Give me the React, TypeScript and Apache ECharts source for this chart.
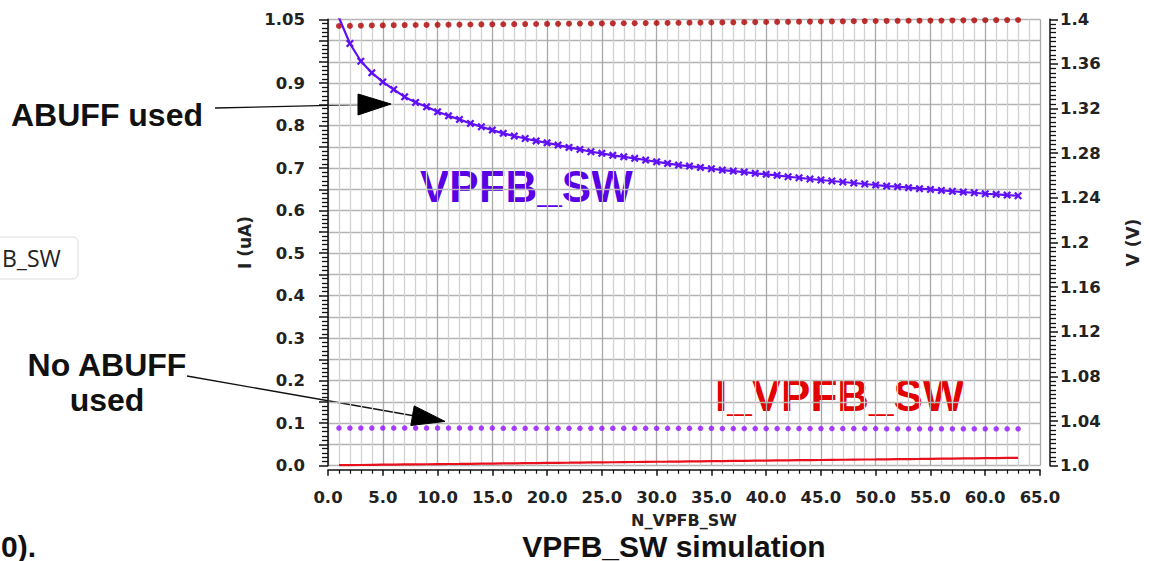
import React, { useEffect, useRef } from "react";
import * as echarts from "echarts";

// Sweep points N_VPFB_SW
const nValues = [
  1, 2, 3, 4, 5, 6, 7, 8, 9, 10, 11, 12, 13, 14, 15, 16, 17, 18, 19, 20, 21,
  22, 23, 24, 25, 26, 27, 28, 29, 30, 31, 32, 33, 34, 35, 36, 37, 38, 39, 40,
  41, 42, 43, 44, 45, 46, 47, 48, 49, 50, 51, 52, 53, 54, 55, 56, 57, 58, 59,
  60, 61, 62, 63,
];

// VPFB_SW (V) with ABUFF
const vpfbAbuff = [
  1.4015, 1.3783, 1.3624, 1.352, 1.3439, 1.3371, 1.3305, 1.3255, 1.3216,
  1.3171, 1.3135, 1.3103, 1.3067, 1.3037, 1.3007, 1.2978, 1.2954, 1.2932,
  1.291, 1.2893, 1.2873, 1.2852, 1.2834, 1.2813, 1.2799, 1.2781, 1.2768,
  1.2754, 1.2739, 1.2723, 1.2709, 1.2694, 1.2685, 1.2673, 1.2661, 1.2649,
  1.264, 1.2631, 1.262, 1.2611, 1.2602, 1.2589, 1.258, 1.2569, 1.256, 1.2551,
  1.2542, 1.2533, 1.2524, 1.2515, 1.2506, 1.25, 1.2491, 1.2482, 1.2476,
  1.2467, 1.2459, 1.2452, 1.2446, 1.2437, 1.2432, 1.2425, 1.2419,
];

// VPFB_SW (V) without ABUFF
const vpfbNoAbuff = [
  1.0337, 1.0337, 1.0337, 1.0337, 1.0337, 1.0337, 1.0337, 1.0337, 1.0337,
  1.0337, 1.0337, 1.0337, 1.0337, 1.0337, 1.0337, 1.0335, 1.0335, 1.0335,
  1.0335, 1.0335, 1.0335, 1.0335, 1.0335, 1.0335, 1.0335, 1.0335, 1.0335,
  1.0335, 1.0335, 1.0335, 1.0335, 1.0335, 1.0335, 1.0335, 1.0335, 1.0333,
  1.0333, 1.0333, 1.0333, 1.0333, 1.0333, 1.0333, 1.0333, 1.0333, 1.0333,
  1.0333, 1.0333, 1.0333, 1.0333, 1.0333, 1.0331, 1.0331, 1.0331, 1.0331,
  1.0331, 1.0331, 1.0331, 1.0331, 1.0331, 1.0331, 1.0331, 1.0331, 1.0331,
];

// I_VPFB_SW (uA) with ABUFF
const iAbuff = [
  1.0343, 1.0345, 1.035, 1.0355, 1.0357, 1.0362, 1.0364, 1.0366, 1.0368,
  1.0371, 1.0373, 1.0375, 1.0378, 1.038, 1.0382, 1.0384, 1.0386, 1.0388,
  1.039, 1.0392, 1.0394, 1.0397, 1.0399, 1.0401, 1.0403, 1.0405, 1.0407,
  1.0409, 1.0411, 1.0413, 1.0415, 1.0418, 1.042, 1.0422, 1.0425, 1.0427,
  1.0429, 1.0432, 1.0434, 1.0437, 1.0439, 1.0441, 1.0444, 1.0446, 1.0448,
  1.0451, 1.0453, 1.0455, 1.0458, 1.046, 1.0462, 1.0464, 1.0466, 1.0467,
  1.0469, 1.0471, 1.0473, 1.0475, 1.0477, 1.0479, 1.048, 1.0482, 1.0484,
];

// I_VPFB_SW (uA) without ABUFF
const iNoAbuff = [
  0.0012, 0.0015, 0.0017, 0.002, 0.0023, 0.0026, 0.0029, 0.0031, 0.0034,
  0.0037, 0.004, 0.0042, 0.0045, 0.0048, 0.0051, 0.0054, 0.0056, 0.0059,
  0.0062, 0.0065, 0.0068, 0.007, 0.0073, 0.0076, 0.0079, 0.0081, 0.0084,
  0.0087, 0.009, 0.0093, 0.0095, 0.0098, 0.0101, 0.0104, 0.0107, 0.0109,
  0.0112, 0.0115, 0.0118, 0.012, 0.0123, 0.0126, 0.0129, 0.0132, 0.0134,
  0.0137, 0.014, 0.0143, 0.0146, 0.0148, 0.0151, 0.0154, 0.0157, 0.0159,
  0.0162, 0.0165, 0.0168, 0.0171, 0.0173, 0.0176, 0.0179, 0.0182, 0.0185,
];

const pairs = (ys: number[]) => nValues.map((n, i) => [n, ys[i]]);

const AXIS_FONT = "DejaVu Sans";
const NOTE_FONT = "Liberation Sans";

// thick "x" marker for the sampled curve
const xMarker =
  "path://M0,2L2,0L5,3L8,0L10,2L7,5L10,8L8,10L5,7L2,10L0,8L3,5Z";

const textStyle = (
  text: string,
  x: number,
  y: number,
  font: string,
  fill: string,
  align: string
) => ({
  text,
  x,
  y,
  font,
  fill,
  align,
  verticalAlign: "middle",
  textAlign: align,
  textVerticalAlign: "middle",
});

export default function App() {
  const ref = useRef<HTMLDivElement>(null);

  useEffect(() => {
    if (!ref.current) return;
    const chart = echarts.init(ref.current, undefined, { renderer: "svg" });

    chart.setOption({
      animation: false,
      backgroundColor: "#ffffff",
      grid: { left: 328, right: 91, top: 19.3, bottom: 95.3, containLabel: false },
      xAxis: {
        type: "value",
        min: 0,
        max: 65,
        interval: 5,
        offset: 4,
        name: "N_VPFB_SW",
        nameLocation: "middle",
        nameGap: 43,
        nameTextStyle: { fontFamily: AXIS_FONT, fontWeight: "bold", fontSize: 16, color: "#222" },
        axisLine: { onZero: false, lineStyle: { color: "#111", width: 1.5 } },
        axisTick: { show: true, length: 6, lineStyle: { color: "#111", width: 1.5 } },
        minorTick: { show: true, splitNumber: 5, length: 4, lineStyle: { color: "#111", width: 1.2 } },
        axisLabel: {
          margin: 19,
          fontFamily: AXIS_FONT,
          fontWeight: "bold",
          fontSize: 16.5,
          color: "#222",
          formatter: (v: number) => v.toFixed(1),
        },
        splitLine: { show: true, lineStyle: { color: "#a8a8a8", width: 1.3 } },
        minorSplitLine: { show: true, lineStyle: { color: "#d2d2d2", width: 1.3 } },
      },
      yAxis: [
        {
          type: "value",
          min: 0,
          max: 1.05,
          interval: 0.05,
          offset: 7,
          position: "left",
          name: "I (uA)",
          nameLocation: "middle",
          nameGap: 55,
          nameRotate: 90,
          nameTextStyle: { fontFamily: AXIS_FONT, fontWeight: "bold", fontSize: 17, color: "#222" },
          axisLine: { show: true, lineStyle: { color: "#111", width: 1.5 } },
          axisTick: { show: true, length: 9, lineStyle: { color: "#111", width: 1.5 } },
          minorTick: { show: true, splitNumber: 5, length: 6, lineStyle: { color: "#111", width: 1.3 } },
          axisLabel: {
            margin: 16,
            fontFamily: AXIS_FONT,
            fontWeight: "bold",
            fontSize: 16.5,
            color: "#222",
            formatter: (v: number) => {
              const r = Math.round(v * 100);
              if (r === 105) return "1.05";
              if (r % 10 === 0 && r < 100) return (r / 100).toFixed(1);
              return "";
            },
          },
          splitLine: { show: true, lineStyle: { color: "#b4b4b4", width: 1.3 } },
        },
        {
          type: "value",
          min: 1.0,
          max: 1.4,
          interval: 0.04,
          offset: 10,
          position: "right",
          name: "V (V)",
          nameLocation: "middle",
          nameGap: 74,
          nameRotate: 90,
          nameTextStyle: { fontFamily: AXIS_FONT, fontWeight: "bold", fontSize: 17, color: "#222" },
          axisLine: { show: true, lineStyle: { color: "#111", width: 1.5 } },
          axisTick: { show: true, length: 8, lineStyle: { color: "#111", width: 1.5 } },
          minorTick: { show: true, splitNumber: 10, length: 6, lineStyle: { color: "#111", width: 1.3 } },
          axisLabel: {
            margin: 10,
            fontFamily: AXIS_FONT,
            fontWeight: "bold",
            fontSize: 16.5,
            color: "#222",
            formatter: (v: number) => {
              const r = Math.round(v * 100);
              return r % 10 === 0 ? (r / 100).toFixed(1) : (r / 100).toFixed(2);
            },
          },
          splitLine: { show: false },
        },
      ],
      series: [
        {
          name: "I_VPFB_SW ABUFF",
          type: "scatter",
          yAxisIndex: 0,
          data: pairs(iAbuff),
          symbol: "circle",
          symbolSize: 6,
          itemStyle: { color: "#b00000" },
          z: 3,
        },
        {
          name: "I_VPFB_SW",
          type: "line",
          yAxisIndex: 0,
          data: pairs(iNoAbuff),
          showSymbol: false,
          lineStyle: { color: "#e8101c", width: 2.2 },
          itemStyle: { color: "#e8101c" },
          z: 3,
        },
        {
          name: "VPFB_SW no ABUFF",
          type: "scatter",
          yAxisIndex: 1,
          data: pairs(vpfbNoAbuff),
          symbol: "circle",
          symbolSize: 5.5,
          itemStyle: { color: "#9410ff" },
          z: 3,
        },
        {
          name: "VPFB_SW",
          type: "line",
          yAxisIndex: 1,
          data: pairs(vpfbAbuff),
          symbol: xMarker,
          symbolSize: 8,
          showAllSymbol: true,
          lineStyle: { color: "#6010f4", width: 2.2 },
          itemStyle: { color: "#6010f4" },
          z: 4,
        },
      ],
      graphic: [
        // fragment of a legend box on the left edge
        {
          type: "rect",
          shape: { x: -10, y: 237, width: 88, height: 42, r: 5 },
          style: { fill: "#ffffff", stroke: "#dcdcdc", lineWidth: 1 },
        },
        {
          type: "text",
          style: textStyle("B_SW", 2, 258, "23px 'Open Sans'", "#222", "left"),
        },
        // annotations with arrows
        {
          type: "text",
          style: textStyle("ABUFF used", 107, 115, `bold 32px '${NOTE_FONT}'`, "#111", "center"),
        },
        {
          type: "line",
          shape: { x1: 215, y1: 108, x2: 362, y2: 104.6 },
          style: { stroke: "#111", lineWidth: 1.3 },
        },
        {
          type: "polygon",
          z: 10,
          shape: { points: [[358, 94], [391, 104], [358, 115]] },
          style: { fill: "#000000", stroke: "#000000", lineWidth: 1 },
        },
        {
          type: "text",
          style: textStyle("No ABUFF", 107, 365, `bold 32px '${NOTE_FONT}'`, "#111", "center"),
        },
        {
          type: "text",
          style: textStyle("used", 107, 400, `bold 32px '${NOTE_FONT}'`, "#111", "center"),
        },
        {
          type: "line",
          shape: { x1: 187, y1: 376, x2: 415, y2: 416 },
          style: { stroke: "#111", lineWidth: 1.3 },
        },
        {
          type: "polygon",
          z: 10,
          shape: { points: [[414.2, 405.9], [445, 421.4], [410.8, 425.5]] },
          style: { fill: "#000000", stroke: "#000000", lineWidth: 1 },
        },
        {
          type: "text",
          style: textStyle("VPFB_SW", 420, 186, `bold 44px '${NOTE_FONT}'`, "#5a00e6", "left"),
        },
        {
          type: "text",
          style: textStyle("I_VPFB_SW", 715, 395, `bold 44px '${NOTE_FONT}'`, "#e30000", "left"),
        },
        {
          type: "text",
          style: textStyle("VPFB_SW simulation", 674, 546, `bold 30px '${NOTE_FONT}'`, "#111", "center"),
        },
        {
          type: "text",
          style: textStyle("0).", 1, 546, `bold 30px '${NOTE_FONT}'`, "#111", "left"),
        },
      ],
    });

    return () => chart.dispose();
  }, []);

  return (
    <div
      ref={ref}
      style={{ position: "absolute", left: 0, top: 0, width: 1149, height: 561, background: "#fff" }}
    />
  );
}
